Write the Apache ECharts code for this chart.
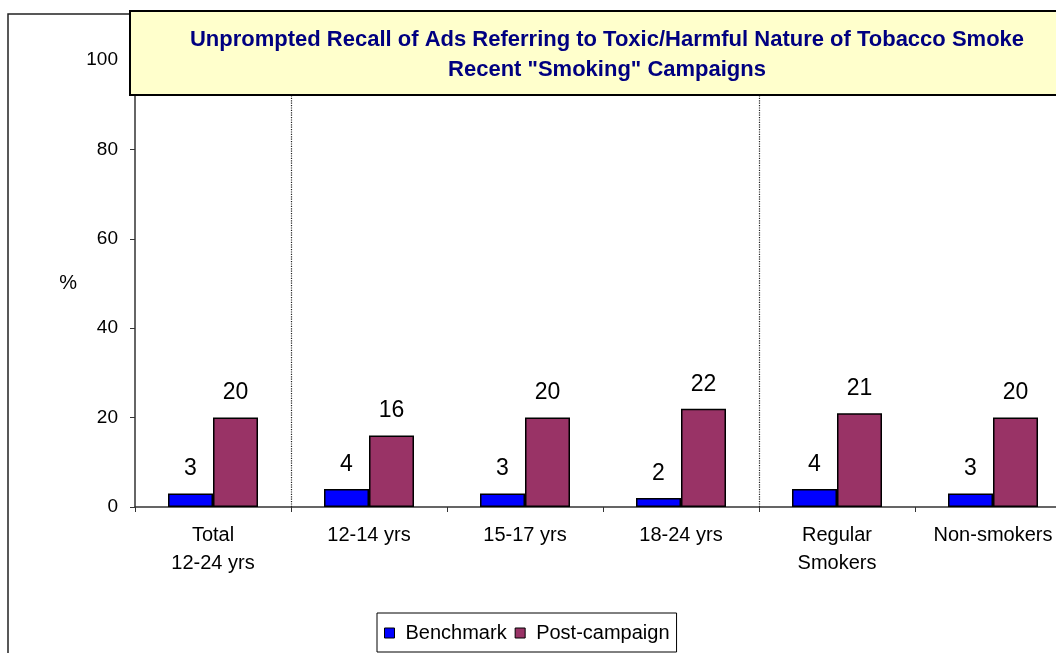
<!DOCTYPE html>
<html>
<head>
<meta charset="utf-8">
<script src="https://cdn.jsdelivr.net/npm/echarts@6/dist/echarts.min.js"></script>
<style>
  html, body { margin: 0; padding: 0; background: #fff; }
  #chart { width: 1056px; height: 653px; }
</style>
</head>
<body>
<div id="chart"></div>
<script>
const categories = ['Total\n12-24 yrs', '12-14 yrs', '15-17 yrs', '18-24 yrs', 'Regular\nSmokers', 'Non-smokers']
const benchmark = [3, 4, 3, 2, 4, 3]
const postCampaign = [20, 16, 20, 22, 21, 20]
const yTicks = [0, 20, 40, 60, 80, 100]
// group dividers, in category units from the left edge
const dividers = [1, 4]

const font = '"Liberation Sans", Arial, sans-serif'

const chart = echarts.init(document.getElementById('chart'))

chart.setOption({
  animation: false,
  textStyle: { fontFamily: font, color: '#000' },
  title: [
    {
      text: 'Unprompted Recall of Ads Referring to Toxic/Harmful Nature of Tobacco Smoke',
      left: 602, top: 24, textAlign: 'center',
      textStyle: { fontFamily: font, fontSize: 22, fontWeight: 'bold', color: '#000080' },
      z: 20
    },
    {
      text: 'Recent "Smoking" Campaigns',
      left: 602, top: 54, textAlign: 'center',
      textStyle: { fontFamily: font, fontSize: 22, fontWeight: 'bold', color: '#000080' },
      z: 20
    }
  ],
  graphic: [
    {
      type: 'rect', z: -10, silent: true,
      shape: { x: 8, y: 14, width: 1100, height: 700 },
      style: { fill: 'none', stroke: '#222', lineWidth: 1.5 }
    },
    {
      type: 'rect', z: 10, silent: true,
      shape: { x: 130, y: 11, width: 950, height: 84 },
      style: { fill: '#FFFFCC', stroke: '#000', lineWidth: 2 }
    }
  ],
  legend: {
    data: ['Benchmark', 'Post-campaign'],
    icon: 'rect',
    left: 377, top: 613,
    itemWidth: 10, itemHeight: 10,
    itemGap: 8,
    padding: [10, 7, 9, 7],
    borderColor: '#000', borderWidth: 1,
    itemStyle: { borderColor: '#000', borderWidth: 1 },
    textStyle: { fontFamily: font, fontSize: 20, color: '#000', padding: [0, 0, 0, 6] }
  },
  grid: { left: 135, top: 60, width: 936, bottom: 146, outerBoundsMode: 'none', containLabel: false },
  xAxis: [
    {
      type: 'category',
      data: categories,
      axisLine: { lineStyle: { color: '#333', width: 1.5 } },
      axisTick: { show: true, length: 5, lineStyle: { color: '#333' } },
      axisLabel: { fontSize: 20, lineHeight: 28, margin: 14, color: '#000', interval: 0 },
      splitLine: { show: false }
    },
    {
      type: 'value', min: 0, max: categories.length, show: false
    }
  ],
  yAxis: {
    type: 'value',
    min: yTicks[0], max: yTicks[yTicks.length - 1], interval: 20,
    name: '%', nameLocation: 'middle', nameRotate: 0, nameGap: 58,
    nameTextStyle: { fontSize: 20, color: '#000' },
    axisLine: { show: true, lineStyle: { color: '#333', width: 1.5 } },
    axisTick: { show: true, length: 5, lineStyle: { color: '#333' } },
    axisLabel: { fontSize: 19, margin: 17, color: '#000' },
    splitLine: { show: false }
  },
  series: [
    {
      name: 'Benchmark', type: 'bar', data: benchmark,
      barWidth: 45, barGap: '0%',
      itemStyle: { color: '#0000FF', borderColor: '#000', borderWidth: 1.5 },
      label: { show: true, position: 'top', distance: 13, fontSize: 23, color: '#000' }
    },
    {
      name: 'Post-campaign', type: 'bar', data: postCampaign,
      barWidth: 45, barGap: '0%',
      itemStyle: { color: '#993366', borderColor: '#000', borderWidth: 1.5 },
      label: { show: true, position: 'top', distance: 13, fontSize: 23, color: '#000' }
    },
    {
      name: 'dividers', type: 'line', xAxisIndex: 1,
      data: dividers.map(d => [d, 0]),
      symbol: 'none', lineStyle: { opacity: 0 }, silent: true,
      markLine: {
        silent: true, symbol: 'none', label: { show: false },
        lineStyle: { type: 'dotted', color: '#222', width: 1.2 },
        data: dividers.map(d => ({ xAxis: d }))
      }
    }
  ]
})
</script>
</body>
</html>
